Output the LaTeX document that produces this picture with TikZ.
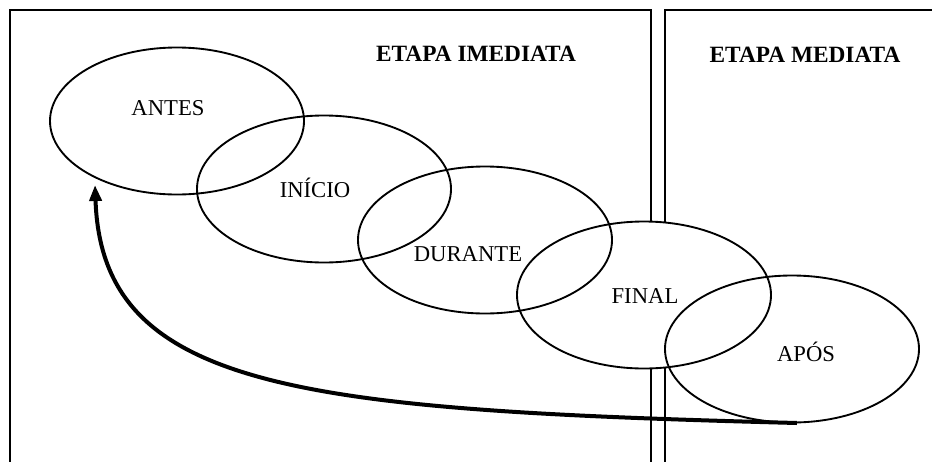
\documentclass[tikz,border=0pt]{standalone}
\usepackage{fontspec}
\setmainfont{Liberation Serif}
\usetikzlibrary{shapes.geometric,arrows.meta}
\begin{document}
\begin{tikzpicture}[x=0.75pt,y=-0.75pt,
  phase/.style={draw,ellipse,line width=1.4pt,minimum width=254*0.75pt,minimum height=147*0.75pt,inner sep=0pt},
  blank/.style={fill=white},
  lbl/.style={font=\fontsize{17}{20}\selectfont,inner sep=0pt},
  head/.style={font=\fontsize{17.5}{20}\selectfont\bfseries,inner sep=0pt},
  frame/.style={line width=1.4pt}]
\useasboundingbox (0,0) rectangle (932,461);
\draw[frame] (10,470) -- (10,10) -- (651,10) -- (651,470);
\draw[frame] (665,470) -- (665,10) -- (940,10);
% white interiors hide the frame lines behind the ellipses
\foreach \cx/\cy in {177/121,324/189,485/240,644/295,792/349}
  \fill[blank] (\cx,\cy) ellipse [x radius=127, y radius=73.5];
\node[phase] (antes) at (177,121) {};
\node[phase] (inicio) at (324,189) {};
\node[phase] (durante) at (485,240) {};
\node[phase] (final) at (644,295) {};
\node[phase] (apos) at (792,349) {};
\node[lbl] (tantes) at (168,108) {ANTES};
\node[lbl] (tinicio) at (315,188) {INÍCIO};
\node[lbl] (tdurante) at (468,254) {DURANTE};
\node[lbl] (tfinal) at (645,296) {FINAL};
\node[lbl] (tapos) at (806,352) {APÓS};
\node[head] (imed) at (476,54) {ETAPA IMEDIATA};
\node[head] (med) at (805,55) {ETAPA MEDIATA};
\coordinate (tip) at (95,185);
\coordinate (start) at (797,423);
\draw[line width=3pt,-{Triangle[length=12pt,width=9pt]}] (start) .. controls (300,410) and (102,390) .. (tip);
\end{tikzpicture}
\end{document}
